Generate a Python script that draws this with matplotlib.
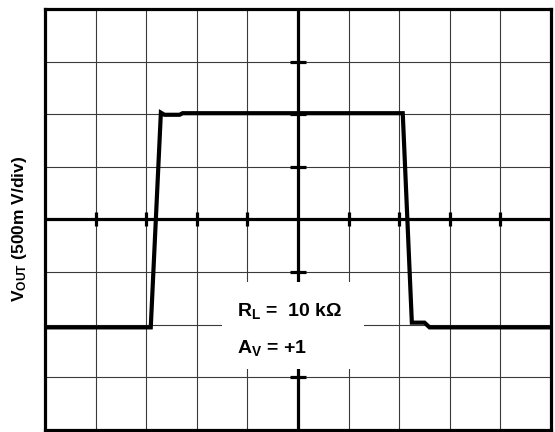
import matplotlib
matplotlib.use("Agg")
import matplotlib.pyplot as plt
from matplotlib.patches import Rectangle

plt.rcParams['font.family'] = ['Liberation Sans', 'DejaVu Sans']
plt.rcParams['mathtext.fontset'] = 'custom'
plt.rcParams['mathtext.rm'] = 'Liberation Sans'
plt.rcParams['mathtext.bf'] = 'Liberation Sans:bold'
plt.rcParams['mathtext.it'] = 'Liberation Sans:italic'

# Data (time in divisions, voltage in divisions)
t_div = [0, 2.09, 2.29, 2.36, 2.66, 2.72, 7.07, 7.25, 7.5, 7.6, 10]
v_div = [-2.05, -2.05, 2.03, 1.99, 1.99, 2.02, 2.02, -1.96, -1.96, -2.05, -2.05]

x_grid = list(range(0, 11))
y_grid = list(range(-4, 5))
x_ticks = [1, 2, 3, 4, 6, 7, 8, 9]
y_ticks = [-3, -2, -1, 1, 2, 3]

label_rl = r'$\mathbf{R_L}$ =  10 kΩ'
label_av = r'$\mathbf{A_V}$ = +1'
ylabel = r'$\mathbf{V_{OUT}}$ (500m V/div)'

fig = plt.figure(figsize=(5.55, 4.32), dpi=100)
ax = fig.add_axes([45/555, 1-430/432, 506/555, 421/432])
ax.set_xlim(0, 10)
ax.set_ylim(-4, 4)

for xg in x_grid[1:-1]:
    ax.axvline(xg, color='#3a3a3a', lw=0.8, zorder=1)
for yg in y_grid[1:-1]:
    ax.axhline(yg, color='#3a3a3a', lw=0.8, zorder=1)

ax.axhline(0, color='black', lw=2.3, zorder=2)
ax.axvline(5, color='black', lw=2.3, zorder=2)
ax.plot(x_ticks, [0]*len(x_ticks), linestyle='none', marker='|', ms=10,
        mew=2.3, color='black', zorder=2)
ax.plot([5]*len(y_ticks), y_ticks, linestyle='none', marker='_', ms=11,
        mew=2.3, color='black', zorder=2)

ax.add_patch(Rectangle((3.5, -2.85), 2.8, 1.67, facecolor='white',
                       edgecolor='none', zorder=3))

ax.plot(t_div, v_div, color='black', lw=3.0, solid_joinstyle='miter', zorder=4)

ax.text(3.79, -1.825, label_rl, fontsize=14, fontweight='bold',
        ha='left', va='baseline', zorder=5)
ax.text(3.79, -2.53, label_av, fontsize=14, fontweight='bold',
        ha='left', va='baseline', zorder=5)

for s in ax.spines.values():
    s.set_linewidth(2.3)
    s.set_zorder(6)
ax.set_xticks([])
ax.set_yticks([])

fig.text(20/555, 1-229/432, ylabel, rotation=90, ha='center', va='center',
         fontsize=12.5, fontweight='bold')

fig.savefig('out.png', dpi=100)
